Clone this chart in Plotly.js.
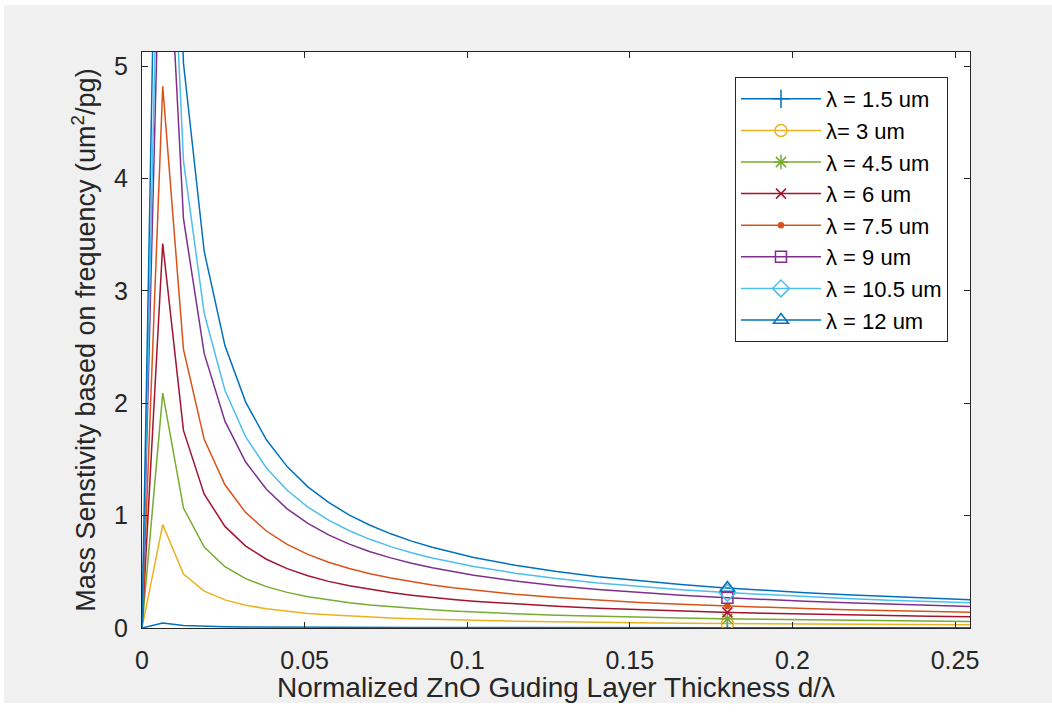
<!DOCTYPE html>
<html><head><meta charset="utf-8">
<script src="https://cdn.plot.ly/plotly-3.0.1.min.js"></script>
<style>
html,body{margin:0;padding:0;background:#ffffff;width:1052px;height:713px;overflow:hidden}
#chart{position:absolute;left:4px;top:5px;width:1048px;height:698px;}
</style>
</head><body><div id="chart"></div>
<script>
// Normalized ZnO guiding layer thickness d/lambda
const thickness = [0, 0.006375, 0.01275, 0.019125, 0.0255, 0.031875, 0.03825, 0.044625, 0.051, 0.057375, 0.06375, 0.070125, 0.0765, 0.082875, 0.08925, 0.095625, 0.102, 0.11475, 0.1275, 0.14025, 0.153, 0.16575, 0.1785, 0.19125, 0.204, 0.21675, 0.2295, 0.24225, 0.255];

// Mass sensitivity (um^2/pg), one array per wavelength
const sens_1_5  = [0, 0.045, 0.023, 0.016, 0.012, 0.0099, 0.0084, 0.0072, 0.0064, 0.0057, 0.0052, 0.0047, 0.0044, 0.0041, 0.0038, 0.0035, 0.0033, 0.0030, 0.0027, 0.0025, 0.0023, 0.0021, 0.0020, 0.0018, 0.0017, 0.0016, 0.0016, 0.0015, 0.0014];
const sens_3    = [0, 0.92, 0.48, 0.328, 0.250, 0.203, 0.171, 0.148, 0.130, 0.117, 0.106, 0.097, 0.089, 0.083, 0.077, 0.072, 0.068, 0.061, 0.055, 0.050, 0.046, 0.043, 0.040, 0.038, 0.035, 0.033, 0.032, 0.030, 0.029];
const sens_4_5  = [0, 2.09, 1.067, 0.720, 0.545, 0.439, 0.368, 0.317, 0.278, 0.248, 0.224, 0.204, 0.188, 0.174, 0.162, 0.151, 0.142, 0.127, 0.114, 0.104, 0.096, 0.089, 0.082, 0.077, 0.072, 0.068, 0.065, 0.061, 0.058];
const sens_6    = [0, 3.42, 1.758, 1.191, 0.904, 0.729, 0.612, 0.528, 0.465, 0.415, 0.375, 0.342, 0.315, 0.292, 0.272, 0.254, 0.239, 0.213, 0.193, 0.176, 0.162, 0.150, 0.140, 0.131, 0.123, 0.116, 0.110, 0.104, 0.099];
const sens_7_5  = [0, 4.82, 2.478, 1.679, 1.274, 1.027, 0.863, 0.744, 0.655, 0.585, 0.529, 0.482, 0.444, 0.411, 0.383, 0.358, 0.337, 0.301, 0.272, 0.248, 0.228, 0.211, 0.197, 0.184, 0.173, 0.163, 0.154, 0.147, 0.140];
const sens_9    = [0, 7.21, 3.642, 2.443, 1.840, 1.477, 1.234, 1.060, 0.930, 0.828, 0.746, 0.679, 0.624, 0.576, 0.536, 0.501, 0.470, 0.418, 0.377, 0.343, 0.315, 0.291, 0.271, 0.253, 0.237, 0.224, 0.211, 0.200, 0.191];
const sens_10_5 = [0, 8.17, 4.156, 2.799, 2.115, 1.701, 1.424, 1.225, 1.076, 0.959, 0.865, 0.789, 0.724, 0.670, 0.623, 0.583, 0.547, 0.488, 0.440, 0.401, 0.369, 0.341, 0.317, 0.297, 0.278, 0.262, 0.248, 0.235, 0.224];
const sens_12   = [0, 10.05, 5.025, 3.35, 2.513, 2.01, 1.675, 1.436, 1.256, 1.117, 1.005, 0.914, 0.838, 0.773, 0.718, 0.670, 0.628, 0.558, 0.503, 0.457, 0.419, 0.387, 0.359, 0.335, 0.314, 0.296, 0.279, 0.264, 0.251];

const seriesNames = ["λ = 1.5 um", "λ= 3 um", "λ = 4.5 um", "λ = 6 um", "λ = 7.5 um", "λ = 9 um", "λ = 10.5 um", "λ = 12 um"];
const markerThickness = 0.18;

const xTickVals = [0, 0.05, 0.1, 0.15, 0.2, 0.25];
const xTickText = ["0", "0.05", "0.1", "0.15", "0.2", "0.25"];
const yTickVals = [0, 1, 2, 3, 4, 5];
const yTickText = ["0", "1", "2", "3", "4", "5"];

const allSeries = [sens_1_5, sens_3, sens_4_5, sens_6, sens_7_5, sens_9, sens_10_5, sens_12];
const colors = ["#0072BD", "#EDB120", "#77AC30", "#A2142F", "#D95319", "#7E2F8E", "#4DBEEE", "#0072BD"];
const symbols = ["cross-thin-open", "circle-open", "asterisk-open", "x-thin-open", "circle", "square-open", "diamond-open", "triangle-up-open"];
const msizes = [13, 12, 12, 10, 5, 11, 13, 13];

function interp(xs, ys, x0) {
  for (let i = 0; i < xs.length - 1; i++) {
    if (x0 >= xs[i] && x0 <= xs[i + 1]) {
      const t = (x0 - xs[i]) / (xs[i + 1] - xs[i]);
      return ys[i] + t * (ys[i + 1] - ys[i]);
    }
  }
  return ys[ys.length - 1];
}

const traces = [];
allSeries.forEach((ys, k) => {
  traces.push({
    x: thickness, y: ys, type: "scatter", mode: "lines",
    line: {color: colors[k], width: 1.5}, showlegend: false, hoverinfo: "skip"
  });
});
allSeries.forEach((ys, k) => {
  traces.push({
    x: [markerThickness], y: [interp(thickness, ys, markerThickness)],
    type: "scatter", mode: "lines+markers", name: seriesNames[k],
    line: {color: colors[k], width: 1.5},
    marker: {symbol: symbols[k], size: msizes[k], color: colors[k], line: {color: colors[k], width: 1.5}}
  });
});

const fontFam = "Liberation Sans, Arial, Helvetica, sans-serif";
const axisCommon = {
  showline: true, linecolor: "#262626", linewidth: 1, mirror: "ticks",
  ticks: "inside", ticklen: 6, tickwidth: 1, tickcolor: "#262626",
  showgrid: false, zeroline: false,
  tickfont: {family: fontFam, size: 25, color: "#262626"}
};

const layout = {
  width: 1048, height: 698,
  margin: {l: 138, r: 82, t: 47, b: 75},
  paper_bgcolor: "#F0F0F0", plot_bgcolor: "#FFFFFF",
  font: {family: fontFam, color: "#262626"},
  xaxis: Object.assign({}, axisCommon, {
    range: [0, 0.2546], tickmode: "array", tickvals: xTickVals, ticktext: xTickText,
    ticklabelstandoff: 10,
    title: {text: "Normalized ZnO Guding Layer Thickness d/λ", font: {family: fontFam, size: 28, color: "#262626"}, standoff: 11}
  }),
  yaxis: Object.assign({}, axisCommon, {
    range: [0, 5.125], tickmode: "array", tickvals: yTickVals, ticktext: yTickText,
    ticklabelstandoff: 8,
    title: {text: "Mass Senstivity based on frequency (um<sup>2</sup>/pg)", font: {family: fontFam, size: 27, color: "#262626"}, standoff: 10}
  }),
  legend: {
    x: 0.9734, xanchor: "right", y: 0.9566, yanchor: "top",
    bgcolor: "#FFFFFF", bordercolor: "#262626", borderwidth: 1,
    font: {family: fontFam, size: 22, color: "#000000"},
    itemwidth: 80
  },
  showlegend: true
};

Plotly.newPlot("chart", traces, layout, {staticPlot: true, displayModeBar: false});
</script>
</body></html>
